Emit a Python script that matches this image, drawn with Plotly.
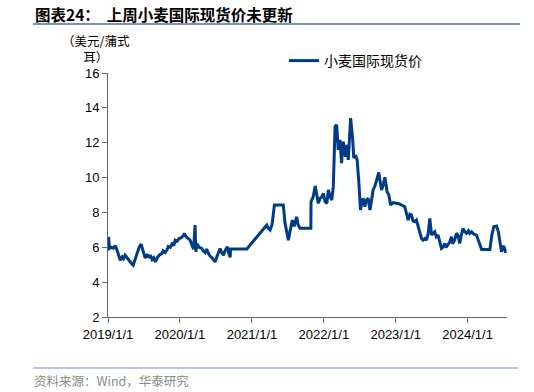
import plotly.graph_objects as go

dates = [
    "2019-01-01", "2019-01-04", "2019-01-08", "2019-01-18", "2019-01-28", "2019-02-07", "2019-02-17",
    "2019-02-24", "2019-03-04", "2019-03-14", "2019-03-21", "2019-03-29", "2019-04-08", "2019-04-18",
    "2019-04-28", "2019-05-09", "2019-05-19", "2019-05-29", "2019-06-08", "2019-06-18", "2019-06-26",
    "2019-07-04", "2019-07-09", "2019-07-19", "2019-07-27", "2019-08-03", "2019-08-13", "2019-08-21",
    "2019-08-29", "2019-09-08", "2019-09-18", "2019-10-02", "2019-10-08", "2019-10-18", "2019-10-27",
    "2019-11-03", "2019-11-13", "2019-11-23", "2019-12-01", "2019-12-08", "2019-12-18", "2019-12-28",
    "2020-01-08", "2020-01-18", "2020-01-24", "2020-02-02", "2020-02-12", "2020-02-22", "2020-03-03",
    "2020-03-11", "2020-03-18", "2020-03-22", "2020-03-28", "2020-04-08", "2020-04-21", "2020-04-28",
    "2020-05-08", "2020-05-16", "2020-05-25", "2020-06-02", "2020-06-12", "2020-06-20", "2020-06-28",
    "2020-07-05", "2020-07-13", "2020-07-23", "2020-07-31", "2020-08-09", "2020-08-17", "2020-08-29",
    "2020-09-04", "2020-09-12", "2020-09-15", "2020-12-06",
    "2021-03-17", "2021-03-24", "2021-04-03", "2021-04-13", "2021-04-25", "2021-06-09", "2021-06-18",
    "2021-06-26", "2021-07-05", "2021-07-13", "2021-07-25", "2021-08-03", "2021-08-16", "2021-08-23",
    "2021-09-02", "2021-09-19", "2021-10-27", "2021-10-28", "2021-11-08", "2021-11-18", "2021-11-25",
    "2021-12-04", "2021-12-13", "2021-12-22", "2021-12-30",
    "2022-01-07", "2022-01-16", "2022-01-24", "2022-02-02", "2022-02-10", "2022-02-18", "2022-02-27",
    "2022-03-07", "2022-03-15", "2022-03-24", "2022-04-01", "2022-04-09", "2022-04-21", "2022-04-29",
    "2022-05-05", "2022-05-11", "2022-05-17", "2022-05-27", "2022-06-02", "2022-06-10", "2022-06-19",
    "2022-06-28", "2022-07-06", "2022-07-13", "2022-07-20", "2022-07-28", "2022-08-05", "2022-08-14",
    "2022-08-23", "2022-08-30", "2022-09-08", "2022-09-17", "2022-09-26", "2022-10-07", "2022-10-15",
    "2022-10-21", "2022-10-30", "2022-11-07", "2022-11-14", "2022-11-18", "2022-11-27", "2022-12-06",
    "2022-12-19",
    "2023-01-17", "2023-02-16", "2023-03-05", "2023-03-14", "2023-03-22", "2023-03-30", "2023-04-08",
    "2023-04-16", "2023-04-25", "2023-05-03", "2023-05-12", "2023-05-20", "2023-05-29", "2023-06-06",
    "2023-06-15", "2023-06-23", "2023-07-02", "2023-07-10", "2023-07-18", "2023-07-26", "2023-08-04",
    "2023-08-13", "2023-08-21", "2023-08-29", "2023-09-07", "2023-09-14", "2023-09-23", "2023-10-02",
    "2023-10-11", "2023-10-17", "2023-10-27", "2023-11-05", "2023-11-13", "2023-11-22", "2023-11-30",
    "2023-12-09", "2023-12-17", "2023-12-26",
    "2024-01-05", "2024-01-12", "2024-01-21", "2024-02-02", "2024-02-15", "2024-02-24", "2024-03-03",
    "2024-03-12", "2024-04-23", "2024-05-03", "2024-05-13", "2024-05-27", "2024-06-05", "2024-06-13",
    "2024-06-21", "2024-06-28", "2024-07-03", "2024-07-11", "2024-07-17",
]

wheat_price = [
    6.0, 6.6, 5.93, 6.0, 5.95, 6.1, 5.8,
    5.5, 5.26, 5.45, 5.35, 5.55, 5.4, 5.2,
    5.1, 4.97, 5.3, 5.7, 6.0, 6.18, 5.9,
    5.5, 5.38, 5.6, 5.4, 5.55, 5.3, 5.4,
    5.16, 5.4, 5.55, 5.65, 5.8, 5.7, 5.84,
    6.05, 6.0, 6.2, 6.1, 6.41, 6.35, 6.5,
    6.55, 6.65, 6.8, 6.6, 6.5, 6.41, 6.1,
    5.9, 7.28, 5.74, 6.2, 6.0, 5.93, 5.8,
    5.7, 5.9, 5.65, 5.5, 5.4, 5.3, 5.16,
    5.4, 5.7, 5.93, 5.7, 5.55, 5.8, 6.03,
    5.7, 5.42, 5.9, 5.9,
    7.28, 7.1, 6.99, 7.3, 8.43, 8.43, 7.37,
    7.0, 6.41, 6.9, 7.56, 7.2, 7.75, 7.3,
    7.09, 7.09, 7.09, 8.62, 8.9, 9.52, 9.0,
    8.52, 8.81, 8.9, 9.1,
    8.62, 8.52, 9.29, 8.9, 8.71, 9.48, 12.93,
    13.03, 11.59, 12.17, 10.83, 12.07, 11.2, 11.88,
    11.02, 12.2, 13.41, 12.26, 11.11, 11.3, 11.02,
    9.68, 8.14, 8.6, 8.81, 8.33, 8.7, 8.81,
    8.14, 8.6, 9.29, 9.5, 9.87, 10.29, 9.7,
    9.29, 9.6, 10.02, 9.5, 9.19, 9.0, 8.43,
    8.56,
    8.5, 8.33, 7.56, 7.9, 7.85, 7.5, 7.47,
    7.56, 7.18, 6.89, 6.51, 6.41, 6.5, 6.41,
    6.8, 7.66, 6.7, 6.8, 6.89, 6.6, 6.7,
    6.3, 5.93, 6.0, 6.22, 6.0, 6.13, 6.3,
    6.6, 6.2, 6.41, 6.8, 6.7, 6.22, 6.7,
    7.09, 6.9, 6.8,
    6.95, 6.8, 6.89, 6.75, 6.7, 6.4, 6.22,
    5.88, 5.88, 6.7, 7.18, 7.22, 6.9, 6.41,
    5.74, 6.0, 6.07, 5.75, 5.74,
]

tick_dates = ["2019-01-01", "2020-01-01", "2021-01-01", "2022-01-01", "2023-01-01", "2024-01-01"]
tick_labels = ["2019/1/1", "2020/1/1", "2021/1/1", "2022/1/1", "2023/1/1", "2024/1/1"]
y_ticks = [2, 4, 6, 8, 10, 12, 14, 16]

series_name = "小麦国际现货价"
title_text = "图表24：  上周小麦国际现货价未更新"
unit_text = "（美元/蒲式<br>耳）"
source_text = "资料来源：Wind，华泰研究"

LINE = "#003b86"
CJK = "Noto Sans CJK SC"
LAT = "Liberation Sans, Arial"

W, H = 534, 392
ml, mr, mt, mb = 108, 27, 73, 75
PW, PH = W - ml - mr, H - mt - mb


def px(xr):
    return (xr - ml) / PW


def py(yr):
    return (H - mb - yr) / PH


fig = go.Figure()
fig.add_trace(go.Scatter(
    x=dates, y=wheat_price, mode="lines", name=series_name,
    line=dict(color=LINE, width=3),
))

fig.update_layout(
    width=W, height=H,
    margin=dict(l=ml, r=mr, t=mt, b=mb),
    paper_bgcolor="white", plot_bgcolor="white",
    showlegend=True,
    legend=dict(
        x=px(284), y=py(61), xanchor="left", yanchor="middle",
        bgcolor="rgba(0,0,0,0)", font=dict(family=CJK, size=14, color="#000"),
    ),
    font=dict(family=LAT, size=13, color="#000"),
)
fig.update_xaxes(
    type="date", range=["2019-01-01", "2024-07-19"],
    tickvals=tick_dates, ticktext=tick_labels,
    showgrid=False, zeroline=False,
    showline=True, linecolor="#666", linewidth=1,
    ticks="outside", ticklen=5, tickcolor="#666",
    tickfont=dict(family=LAT, size=13, color="#000"),
)
fig.update_yaxes(
    range=[2, 16], tickvals=y_ticks,
    showgrid=False, zeroline=False,
    showline=True, linecolor="#666", linewidth=1,
    ticks="outside", ticklen=5, tickcolor="#666",
    tickfont=dict(family=LAT, size=13, color="#000"),
)

# title
fig.add_annotation(
    xref="paper", yref="paper", x=px(33), y=py(14),
    text="<b>" + title_text + "</b>", showarrow=False, xanchor="left", yanchor="middle",
    font=dict(family=CJK, size=15.5, color="#000"),
)
# unit label
fig.add_annotation(
    xref="paper", yref="paper", x=px(96), y=py(49),
    text=unit_text, showarrow=False, xanchor="center", yanchor="middle", align="center",
    font=dict(family=CJK, size=12.5, color="#000"),
)
# source
fig.add_annotation(
    xref="paper", yref="paper", x=px(32), y=py(380),
    text=source_text, showarrow=False, xanchor="left", yanchor="middle",
    font=dict(family=CJK, size=12.5, color="#8a8a8a"),
)
# separator lines
fig.add_shape(type="line", xref="paper", yref="paper",
              x0=px(33), x1=px(520), y0=py(24), y1=py(24),
              line=dict(color="#4f6e9e", width=1.5))
fig.add_shape(type="line", xref="paper", yref="paper",
              x0=px(33), x1=px(518), y0=py(368), y1=py(368),
              line=dict(color="#6a93c8", width=1.2))

fig.write_html(
    "out.html",
    config={"displayModeBar": False},
    post_script="document.body.style.margin='0';document.body.style.padding='0';",
)
